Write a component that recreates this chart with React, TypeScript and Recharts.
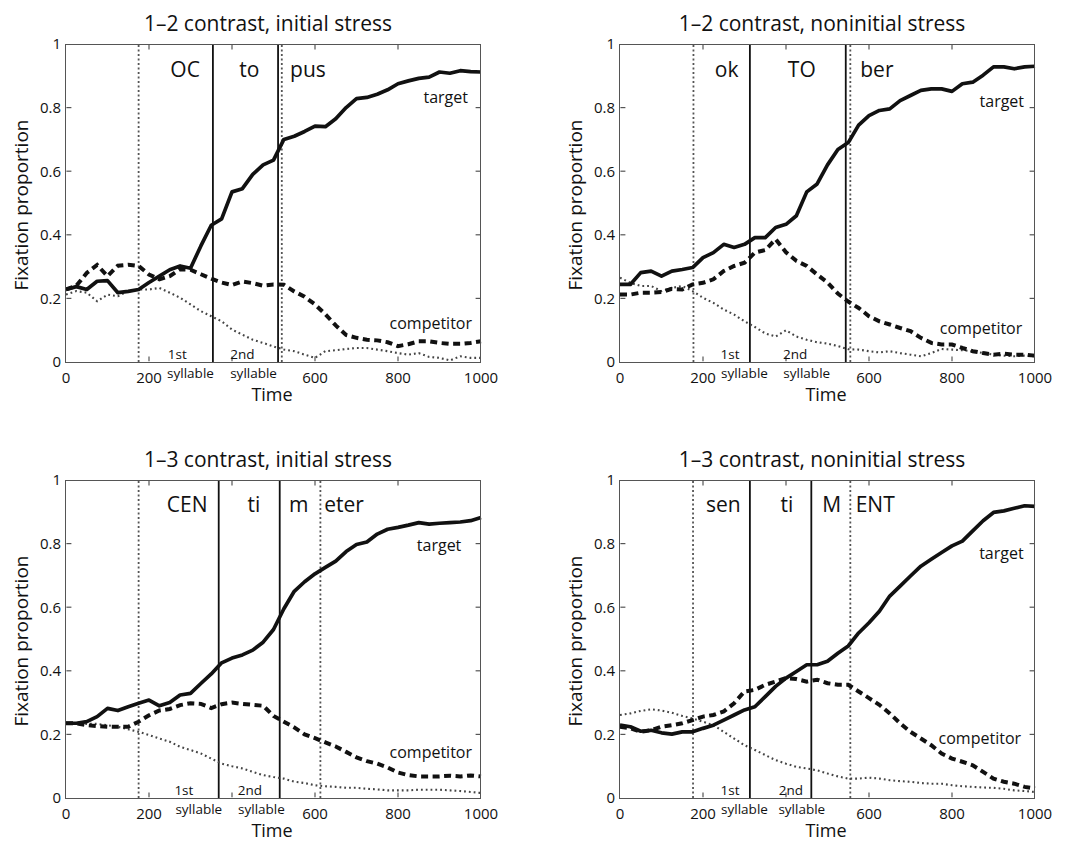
import React from 'react';
import { LineChart, Line, XAxis, YAxis, ReferenceLine, ReferenceDot } from 'recharts';

// time axis (ms), shared by every panel
const TIME = [
  0, 25, 50, 75, 100, 125, 150, 175, 200, 225, 250, 275, 300, 325, 350, 375, 400, 425, 450, 475, 500,
  525, 550, 575, 600, 625, 650, 675, 700, 725, 750, 775, 800, 825, 850, 875, 900, 925, 950, 975, 1000,
];

// 1-2 contrast, initial stress (OCtopus)
const P1_TARGET = [
  0.228, 0.237, 0.228, 0.254, 0.256, 0.218, 0.222, 0.228, 0.25, 0.27, 0.29, 0.302, 0.295, 0.365, 0.43,
  0.45, 0.535, 0.545, 0.59, 0.62, 0.635, 0.7, 0.71, 0.725, 0.742, 0.74, 0.765, 0.8, 0.828, 0.832, 0.842,
  0.856, 0.875, 0.884, 0.892, 0.896, 0.912, 0.908, 0.916, 0.913, 0.912,
];
const P1_COMPETITOR = [
  0.228, 0.24, 0.28, 0.305, 0.27, 0.303, 0.306, 0.302, 0.275, 0.26, 0.27, 0.292, 0.29, 0.276, 0.262,
  0.25, 0.242, 0.253, 0.248, 0.24, 0.244, 0.243, 0.222, 0.205, 0.181, 0.15, 0.115, 0.085, 0.076, 0.07,
  0.068, 0.062, 0.05, 0.056, 0.065, 0.065, 0.06, 0.057, 0.057, 0.06, 0.065,
];
const P1_OTHER = [
  0.212, 0.223, 0.218, 0.191, 0.212, 0.207, 0.223, 0.228, 0.228, 0.233, 0.218, 0.202, 0.181, 0.16,
  0.144, 0.128, 0.102, 0.086, 0.07, 0.06, 0.049, 0.039, 0.034, 0.023, 0.013, 0.034, 0.037, 0.041, 0.044,
  0.044, 0.039, 0.034, 0.028, 0.023, 0.028, 0.016, 0.013, 0.005, 0.018, 0.013, 0.013,
];

// 1-2 contrast, noninitial stress (ocTOber)
const P2_TARGET = [
  0.244, 0.244, 0.281, 0.286, 0.27, 0.286, 0.291, 0.297, 0.328, 0.344, 0.37, 0.36, 0.37, 0.391, 0.391,
  0.423, 0.433, 0.46, 0.535, 0.56, 0.62, 0.668, 0.69, 0.745, 0.775, 0.791, 0.796, 0.822, 0.838, 0.854,
  0.859, 0.859, 0.851, 0.875, 0.88, 0.902, 0.928, 0.928, 0.922, 0.928, 0.93,
];
const P2_COMPETITOR = [
  0.212, 0.212, 0.218, 0.218, 0.22, 0.23, 0.228, 0.244, 0.249, 0.26, 0.286, 0.302, 0.312, 0.344, 0.352,
  0.386, 0.345, 0.318, 0.302, 0.275, 0.25, 0.215, 0.19, 0.17, 0.144, 0.128, 0.118, 0.107, 0.097, 0.076,
  0.06, 0.055, 0.055, 0.044, 0.034, 0.028, 0.023, 0.026, 0.023, 0.023, 0.02,
];
const P2_OTHER = [
  0.265, 0.249, 0.239, 0.239, 0.223, 0.233, 0.239, 0.223, 0.202, 0.186, 0.165, 0.149, 0.128, 0.11,
  0.09, 0.08, 0.1, 0.08, 0.07, 0.062, 0.058, 0.05, 0.04, 0.039, 0.034, 0.03, 0.034, 0.028, 0.023, 0.018,
  0.028, 0.041, 0.039, 0.037, 0.034, 0.028, 0.023, 0.02, 0.018, 0.02, 0.018,
];

// 1-3 contrast, initial stress (CENtimeter)
const P3_TARGET = [
  0.235, 0.235, 0.24, 0.256, 0.282, 0.275, 0.287, 0.298, 0.308, 0.29, 0.3, 0.324, 0.329, 0.36, 0.39,
  0.425, 0.44, 0.45, 0.465, 0.49, 0.53, 0.595, 0.65, 0.68, 0.705, 0.725, 0.745, 0.775, 0.797, 0.805,
  0.83, 0.845, 0.851, 0.858, 0.866, 0.861, 0.864, 0.866, 0.868, 0.872, 0.882,
];
const P3_COMPETITOR = [
  0.235, 0.235, 0.229, 0.226, 0.224, 0.224, 0.224, 0.24, 0.26, 0.275, 0.28, 0.292, 0.298, 0.296, 0.283,
  0.295, 0.3, 0.296, 0.293, 0.29, 0.258, 0.24, 0.222, 0.2, 0.188, 0.175, 0.162, 0.145, 0.128, 0.116,
  0.108, 0.096, 0.08, 0.072, 0.068, 0.068, 0.068, 0.07, 0.068, 0.071, 0.068,
];
const P3_OTHER = [
  0.235, 0.235, 0.233, 0.233, 0.229, 0.224, 0.216, 0.208, 0.198, 0.187, 0.177, 0.161, 0.151, 0.14,
  0.124, 0.108, 0.1, 0.093, 0.082, 0.072, 0.066, 0.061, 0.051, 0.047, 0.04, 0.037, 0.035, 0.032, 0.032,
  0.029, 0.027, 0.024, 0.024, 0.024, 0.026, 0.026, 0.026, 0.024, 0.022, 0.019, 0.016,
];

// 1-3 contrast, noninitial stress (senTIMENT)
const P4_TARGET = [
  0.229, 0.224, 0.21, 0.213, 0.205, 0.201, 0.208, 0.208, 0.219, 0.229, 0.245, 0.261, 0.277, 0.287,
  0.319, 0.351, 0.377, 0.398, 0.419, 0.419, 0.43, 0.455, 0.478, 0.519, 0.551, 0.587, 0.635, 0.666,
  0.698, 0.729, 0.751, 0.772, 0.793, 0.808, 0.84, 0.872, 0.898, 0.903, 0.911, 0.919, 0.917,
];
const P4_COMPETITOR = [
  0.224, 0.219, 0.208, 0.213, 0.224, 0.229, 0.235, 0.245, 0.256, 0.261, 0.272, 0.298, 0.335, 0.34,
  0.356, 0.366, 0.377, 0.374, 0.366, 0.372, 0.361, 0.356, 0.356, 0.335, 0.314, 0.293, 0.266, 0.235,
  0.208, 0.187, 0.166, 0.14, 0.124, 0.114, 0.103, 0.082, 0.061, 0.051, 0.045, 0.035, 0.03,
];
const P4_OTHER = [
  0.261, 0.266, 0.274, 0.279, 0.275, 0.268, 0.258, 0.25, 0.24, 0.229, 0.208, 0.187, 0.166, 0.151,
  0.135, 0.119, 0.108, 0.098, 0.093, 0.087, 0.077, 0.068, 0.061, 0.061, 0.064, 0.061, 0.056, 0.053,
  0.051, 0.047, 0.045, 0.045, 0.04, 0.037, 0.035, 0.033, 0.032, 0.029, 0.024, 0.022, 0.019,
];

const X_TICKS = [0, 200, 400, 600, 800, 1000];
const Y_TICKS = [0, 0.2, 0.4, 0.6, 0.8, 1];

type Note = { x: number; y: number; text: string; size: number };

const FONT = '"Open Sans", "DejaVu Sans", sans-serif';
const INK = '#111';
const BOX = '#555';
const W = 516;
const H = 420;
// plot box sits at x 66..480, y 45..362 inside each panel
const MARGIN = { top: 44, right: 35, bottom: 28, left: 26 };
const PLOT = { left: 66, top: 45, width: 414, height: 317 };

const WORD = 21;
const SMALL = 13.5;
const TAG = 16;

// onset markers: dotted = word/segment boundaries, solid = syllable boundaries
const PANELS = [
  {
    title: '1\u20132 contrast, initial stress',
    left: 0,
    top: 0,
    target: P1_TARGET,
    competitor: P1_COMPETITOR,
    other: P1_OTHER,
    dotted: [175, 520],
    solid: [354, 511],
    notes: [
      { x: 287, y: 0.921, text: 'OC', size: WORD },
      { x: 442, y: 0.921, text: 'to', size: WORD },
      { x: 583, y: 0.921, text: 'pus', size: WORD },
      { x: 268, y: 0.026, text: '1st', size: SMALL },
      { x: 300, y: -0.036, text: 'syllable', size: SMALL },
      { x: 425, y: 0.026, text: '2nd', size: SMALL },
      { x: 452, y: -0.036, text: 'syllable', size: SMALL },
      { x: 915, y: 0.833, text: 'target', size: TAG },
      { x: 879, y: 0.123, text: 'competitor', size: TAG },
    ] as Note[],
  },
  {
    title: '1\u20132 contrast, noninitial stress',
    left: 554,
    top: 0,
    target: P2_TARGET,
    competitor: P2_COMPETITOR,
    other: P2_OTHER,
    dotted: [177, 555],
    solid: [313, 544],
    notes: [
      { x: 257, y: 0.921, text: 'ok', size: WORD },
      { x: 438, y: 0.921, text: 'TO', size: WORD },
      { x: 619, y: 0.921, text: 'ber', size: WORD },
      { x: 265, y: 0.026, text: '1st', size: SMALL },
      { x: 300, y: -0.036, text: 'syllable', size: SMALL },
      { x: 422, y: 0.026, text: '2nd', size: SMALL },
      { x: 450, y: -0.036, text: 'syllable', size: SMALL },
      { x: 920, y: 0.822, text: 'target', size: TAG },
      { x: 870, y: 0.107, text: 'competitor', size: TAG },
    ] as Note[],
  },
  {
    title: '1\u20133 contrast, initial stress',
    left: 0,
    top: 436,
    target: P3_TARGET,
    competitor: P3_COMPETITOR,
    other: P3_OTHER,
    dotted: [175, 613],
    solid: [368, 515],
    notes: [
      { x: 292, y: 0.924, text: 'CEN', size: WORD },
      { x: 453, y: 0.924, text: 'ti', size: WORD },
      { x: 561, y: 0.924, text: 'm', size: WORD },
      { x: 670, y: 0.924, text: 'eter', size: WORD },
      { x: 284, y: 0.026, text: '1st', size: SMALL },
      { x: 320, y: -0.036, text: 'syllable', size: SMALL },
      { x: 443, y: 0.026, text: '2nd', size: SMALL },
      { x: 471, y: -0.036, text: 'syllable', size: SMALL },
      { x: 899, y: 0.795, text: 'target', size: TAG },
      { x: 879, y: 0.145, text: 'competitor', size: TAG },
    ] as Note[],
  },
  {
    title: '1\u20133 contrast, noninitial stress',
    left: 554,
    top: 436,
    target: P4_TARGET,
    competitor: P4_COMPETITOR,
    other: P4_OTHER,
    dotted: [176, 555],
    solid: [313, 461],
    notes: [
      { x: 249, y: 0.924, text: 'sen', size: WORD },
      { x: 402, y: 0.924, text: 'ti', size: WORD },
      { x: 510, y: 0.924, text: 'M', size: WORD },
      { x: 615, y: 0.924, text: 'ENT', size: WORD },
      { x: 265, y: 0.026, text: '1st', size: SMALL },
      { x: 300, y: -0.036, text: 'syllable', size: SMALL },
      { x: 412, y: 0.026, text: '2nd', size: SMALL },
      { x: 438, y: -0.036, text: 'syllable', size: SMALL },
      { x: 919, y: 0.772, text: 'target', size: TAG },
      { x: 867, y: 0.19, text: 'competitor', size: TAG },
    ] as Note[],
  },
];

type PanelProps = (typeof PANELS)[number];

// inward ticks, kept just inside the domain so they are not discarded
const innerX = X_TICKS.slice(1, -1);
const innerY = Y_TICKS.slice(1, -1);
const BOX_TICKS = [
  ...innerX.map((x) => [{ x, y: 0.002 }, { x, y: 0.017 }]),
  ...innerX.map((x) => [{ x, y: 0.998 }, { x, y: 0.983 }]),
  ...innerY.map((y) => [{ x: 1, y }, { x: 13, y }]),
  ...innerY.map((y) => [{ x: 999, y }, { x: 987, y }]),
];

function Panel({ title, left, top, target, competitor, other, dotted, solid, notes }: PanelProps) {
  const rows = TIME.map((t, i) => ({ t, target: target[i], competitor: competitor[i], other: other[i] }));
  const tickStyle = { fontSize: 15, fill: INK, fontFamily: FONT };

  return (
    <div style={{ position: 'absolute', left, top, width: W, height: H }}>
      <LineChart width={W} height={H} data={rows} margin={MARGIN}>
        <XAxis
          dataKey="t"
          type="number"
          domain={[0, 1000]}
          ticks={X_TICKS}
          interval={0}
          height={30}
          tickSize={0}
          tickMargin={10}
          tick={tickStyle}
          tickFormatter={(v: number) => (v === 400 ? '' : String(v))}
          axisLine={false}
          tickLine={false}
        />
        <YAxis
          type="number"
          domain={[0, 1]}
          ticks={Y_TICKS}
          interval={0}
          width={40}
          tickSize={0}
          tickMargin={5}
          tick={tickStyle}
          axisLine={false}
          tickLine={false}
        />
        {BOX_TICKS.map((seg, i) => (
          <ReferenceLine key={'tk' + i} segment={seg} stroke={BOX} strokeWidth={1.2} />
        ))}
        {dotted.map((x) => (
          <ReferenceLine key={'d' + x} x={x} stroke="#555" strokeWidth={1.8} strokeDasharray="2 2.5" />
        ))}
        {solid.map((x) => (
          <ReferenceLine key={'s' + x} x={x} stroke={INK} strokeWidth={1.8} />
        ))}
        <Line
          dataKey="other"
          type="linear"
          stroke="#444"
          strokeWidth={2.1}
          strokeDasharray="1.8 3"
          dot={false}
          isAnimationActive={false}
        />
        <Line
          dataKey="competitor"
          type="linear"
          stroke={INK}
          strokeWidth={4}
          strokeDasharray="7 4.5"
          dot={false}
          isAnimationActive={false}
        />
        <Line
          dataKey="target"
          type="linear"
          stroke={INK}
          strokeWidth={3.7}
          strokeLinejoin="round"
          dot={false}
          isAnimationActive={false}
        />
        {notes.map((n) => (
          <ReferenceDot
            key={n.text + n.x}
            x={n.x}
            y={n.y}
            r={0}
            ifOverflow="visible"
            shape={(p: any) => (
              <text
                x={p.cx}
                y={p.cy}
                textAnchor="middle"
                dominantBaseline="central"
                fontSize={n.size}
                fontFamily={FONT}
                fill={INK}
              >
                {n.text}
              </text>
            )}
          />
        ))}
      </LineChart>
      {/* frame round the plot area */}
      <div
        style={{
          position: 'absolute',
          left: PLOT.left - 1,
          top: PLOT.top - 1,
          width: PLOT.width + 2,
          height: PLOT.height + 2,
          boxSizing: 'border-box',
          border: `1px solid ${BOX}`,
          pointerEvents: 'none',
        }}
      />
      <div
        style={{
          position: 'absolute',
          left: 68,
          top: 11,
          width: 400,
          textAlign: 'center',
          fontSize: 21,
          lineHeight: '24px',
          fontFamily: FONT,
          color: INK,
        }}
      >
        {title}
      </div>
      <div
        style={{
          position: 'absolute',
          left: 21,
          top: 205,
          transform: 'translate(-50%, -50%) rotate(-90deg)',
          whiteSpace: 'nowrap',
          fontSize: 19,
          lineHeight: '22px',
          fontFamily: FONT,
          color: INK,
        }}
      >
        Fixation proportion
      </div>
      <div
        style={{
          position: 'absolute',
          left: 272,
          top: 394,
          transform: 'translate(-50%, -50%)',
          fontSize: 18,
          lineHeight: '18px',
          fontFamily: FONT,
          color: INK,
        }}
      >
        Time
      </div>
    </div>
  );
}

export default function App() {
  return (
    <div
      style={{
        position: 'absolute',
        left: 0,
        top: 0,
        width: 1071,
        height: 843,
        background: '#fff',
        overflow: 'hidden',
      }}
    >
      {PANELS.map((p) => (
        <Panel key={p.title} {...p} />
      ))}
    </div>
  );
}
